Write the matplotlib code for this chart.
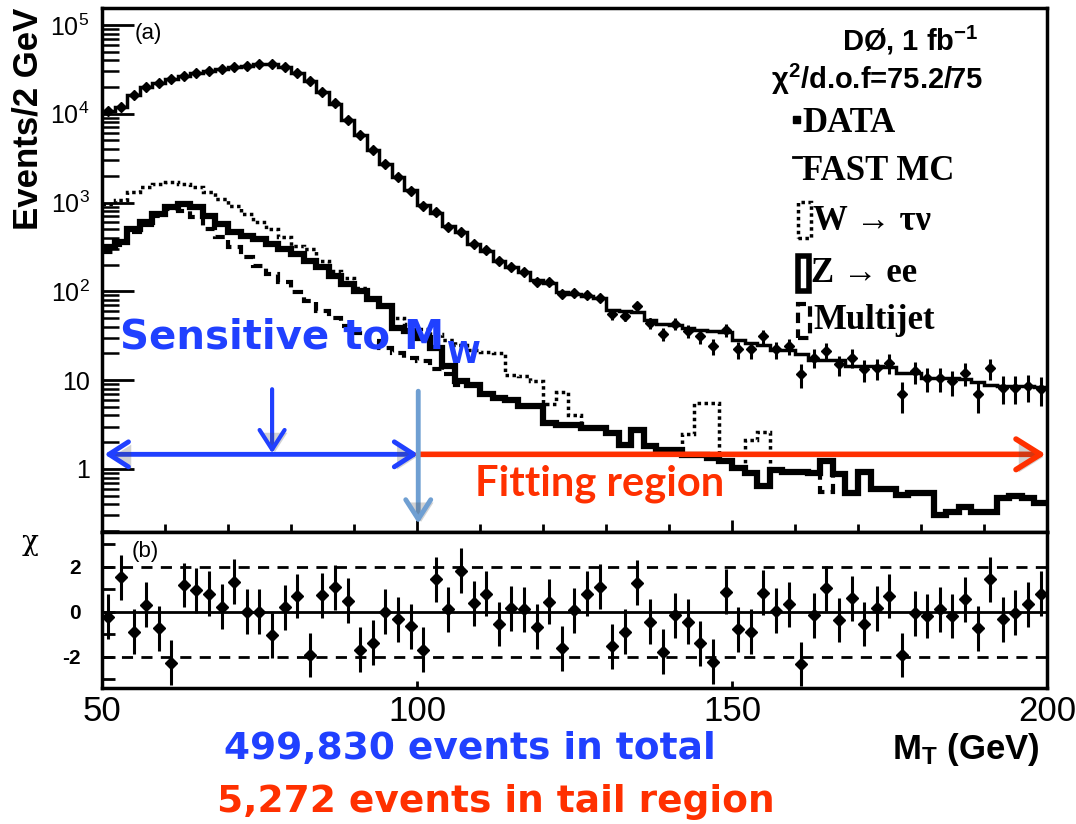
import numpy as np
import matplotlib.pyplot as plt
import matplotlib.patheffects as pe
from matplotlib.patches import Rectangle
from matplotlib.lines import Line2D
from matplotlib.ticker import MultipleLocator, LogLocator, NullFormatter

plt.rcParams['font.family'] = ['Liberation Sans', 'DejaVu Sans']
plt.rcParams['mathtext.fontset'] = 'custom'
plt.rcParams['mathtext.rm'] = 'Liberation Sans'
plt.rcParams['mathtext.it'] = 'Liberation Sans:italic'
plt.rcParams['mathtext.bf'] = 'Liberation Sans:bold'
plt.rcParams['mathtext.default'] = 'regular'

# transverse mass, 2 GeV bins from 50 to 200 GeV
edges = np.arange(50, 202, 2)
centers = edges[:-1] + 1

fast_mc = [10800, 11800, 16200, 20100, 22000, 24300, 26500, 28400, 30500, 31600,
           33300, 34700, 36200, 36200, 33800, 28900, 23300, 17600, 13000, 8600,
           5710, 3940, 2730, 1930, 1370, 940, 770, 540, 460, 340,
           285, 222, 186, 163, 134, 124, 98, 94, 89, 84,
           62, 60, 58, 47, 43, 42, 39, 37, 36, 35,
           28, 26, 25, 22, 22, 19.5, 17, 17, 17, 14.5,
           14.4, 14.4, 14.2, 12, 12, 10.6, 10.6, 10.5, 10.4, 9.5,
           8.9, 8.6, 8.5, 8.5, 8.4]

data = [10750, 11900, 16100, 20200, 21900, 24400, 26400, 28500, 30600, 31500,
        33500, 34500, 36300, 36000, 33900, 29000, 23100, 17700, 13100, 8550,
        5700, 3920, 2740, 1920, 1360, 920, 790, 535, 470, 342,
        290, 220, 188, 164, 128, 127, 93, 95, 91, 85,
        55, 53, 68.5, 44, 33, 43, 36, 31.4, 24.2, 37,
        22.2, 22.2, 31.4, 22.2, 24.2, 11.6, 17.9, 21.3, 15, 17.9,
        13.2, 13.8, 15.7, 6.9, 12.6, 10.6, 10.6, 9.7, 12.1, 6.9,
        13.8, 8.2, 8.2, 8.55, 7.9]

w_tauv = [950, 1070, 1300, 1490, 1620, 1690, 1620, 1490, 1300, 1100,
          925, 746, 600, 505, 406, 327, 300, 221, 171, 143,
          110, 85, 68, 50.6, 43, 38, 33, 28, 25, 22,
          21, 20, 11.5, 11, 9.7, 5.4, 7.3, 4.1, 2.9, 2.9,
          2.55, 1.88, 2.77, 1.8, 1.65, 1.65, 2.45, 5.5, 5.5, 1.22,
          1.02, 2.1, 2.6, 0.98, 0.93, 0.93, 0.9, 1.23, 0.87, 0.54,
          0.93, 0.6, 0.6, 0.51, 0.54, 0.54, 0.30, 0.33, 0.37, 0.33,
          0.33, 0.47, 0.49, 0.47, 0.41]

z_ee = [316, 357, 505, 600, 746, 886, 966, 886, 712, 574,
        462, 424, 389, 341, 300, 263, 221, 186, 150, 120,
        101, 82, 68.5, 39, 36, 30, 23, 14.4, 9.7, 8.9,
        6.9, 6.3, 6.0, 5.1, 5.1, 3.3, 3.16, 3.16, 2.9, 2.9,
        2.55, 1.88, 2.77, 1.8, 1.65, 1.65, 1.45, 1.45, 1.32, 1.22,
        1.02, 0.9, 0.65, 0.98, 0.93, 0.93, 0.9, 1.23, 0.87, 0.54,
        0.93, 0.6, 0.6, 0.51, 0.54, 0.54, 0.30, 0.33, 0.37, 0.33,
        0.33, 0.47, 0.49, 0.47, 0.41]

multijet = [280, 330, 470, 560, 700, 850, 810, 683, 505, 406,
            313, 241, 194, 156, 126, 97, 78, 60, 50.6, 40.7,
            34, 27.6, 23.2, 20.3, 17.9, 16.4, 13.2, 11.6, 8.9, 8.9,
            6.9, 6.3, 6.0, 5.1, 5.1, 3.3, 3.16, 3.16, 2.9, 2.9,
            2.55, 1.88, 2.77, 1.8, 1.65, 1.65, 1.45, 1.45, 1.32, 1.22,
            1.02, 0.9, 0.65, 0.98, 0.93, 0.93, 0.9, 0.55, 0.87, 0.54,
            0.93, 0.6, 0.6, 0.51, 0.54, 0.54, 0.30, 0.33, 0.37, 0.33,
            0.33, 0.47, 0.49, 0.47, 0.41]

chi = [-0.22, 1.53, -0.89, 0.30, -0.74, -2.27, 1.19, 0.96, 0.79, 0.22,
       1.33, 0.0, 0.0, -1.04, 0.19, 0.70, -1.93, 0.74, 1.08, 0.49,
       -1.70, -1.38, 0.0, -0.34, -0.64, -1.70, 1.44, 0.10, 1.82, 0.37,
       0.81, -0.55, 0.15, 0.10, -0.67, 0.44, -1.63, 0.07, 0.81, 1.11,
       -1.53, -0.89, 1.29, -0.44, -1.78, -0.15, -0.44, -1.41, -2.22, 0.89,
       -0.79, -0.89, 0.84, 0.04, 0.34, -2.33, -0.15, 1.04, -0.37, 0.59,
       -0.55, 0.15, 0.70, -1.93, -0.07, -0.19, 0.10, -0.19, 0.55, -0.74,
       1.44, -0.34, -0.04, 0.34, 0.79]

blue = '#2040ff'
red = '#ff3000'
light_blue = '#6f9fd2'

fig = plt.figure(figsize=(10.76, 8.24), dpi=100)
ax1 = fig.add_axes([0.0948, 0.3544, 0.8782, 0.6359])
ax2 = fig.add_axes([0.0948, 0.1650, 0.8782, 0.1894])

# (a) spectrum
ax1.stairs(multijet, edges, baseline=None, color='k', lw=3, ls=(0, (2.5, 1.5)))
ax1.stairs(w_tauv, edges, baseline=None, color='k', lw=2.5, ls=(0, (1, 1)))
ax1.stairs(z_ee, edges, baseline=None, color='k', lw=4.5)
ax1.stairs(fast_mc, edges, baseline=None, color='k', lw=2.5)
ax1.errorbar(centers, data, yerr=np.sqrt(data), fmt='D', ms=5.5, color='k',
             elinewidth=2.2, capsize=0)

ax1.set_yscale('log')
ax1.set_xlim(50, 200)
ax1.set_ylim(0.195, 1.55e5)
ax1.set_yticks([1, 10, 1e2, 1e3, 1e4, 1e5],
               labels=['1', '10', '$10^{2}$', '$10^{3}$', '$10^{4}$', '$10^{5}$'])
ax1.yaxis.set_minor_locator(LogLocator(base=10, subs=np.arange(2, 10), numticks=100))
ax1.yaxis.set_minor_formatter(NullFormatter())
ax1.set_xticks([50, 100, 150, 200])
ax1.xaxis.set_minor_locator(MultipleLocator(10))
ax1.tick_params(axis='y', which='major', direction='in', length=23, width=2,
                labelsize=18, pad=9)
ax1.tick_params(axis='y', which='minor', direction='in', length=12, width=1.8)
ax1.tick_params(axis='x', which='major', direction='in', length=9, width=2,
                labelbottom=False)
ax1.tick_params(axis='x', which='minor', direction='in', length=6, width=2)
ax1.text(0.035, 0.952, '(a)', transform=ax1.transAxes, fontsize=16,
         va='center', ha='left')

# (b) chi per bin
ax2.axhline(0, color='k', lw=2)
for lvl in (2, -2):
    ax2.axhline(lvl, color='k', lw=2, ls=(0, (4, 3)))
ax2.errorbar(centers, chi, yerr=1, fmt='D', ms=6.5, color='k', elinewidth=2.2, capsize=0)
ax2.set_xlim(50, 200)
ax2.set_ylim(-3.4, 3.55)
ax2.set_yticks([-3, -2, -1, 0, 1, 2, 3], labels=['', '-2', '', '0', '', '2', ''])
ax2.set_xticks([50, 100, 150, 200], labels=['50', '100', '150', '200'])
ax2.tick_params(axis='y', direction='in', length=9, width=2, labelsize=15, pad=15)
ax2.tick_params(axis='x', direction='in', length=5, width=2, labelsize=25, pad=5)
for lab in ax2.get_yticklabels():
    lab.set_fontweight('bold')
ax2.text(0.031, 0.878, '(b)', transform=ax2.transAxes, fontsize=16,
         va='center', ha='left')

for ax in (ax1, ax2):
    for sp in ax.spines.values():
        sp.set_linewidth(2.5)

fig.text(28 / 1076, 1 - 8 / 824, 'Events/2 GeV', rotation=90, ha='center', va='top',
         fontsize=25, fontweight='bold')
fig.text(30 / 1076, 1 - 545 / 824, r'$\chi$', ha='center', va='center', fontsize=20,
         family='DejaVu Serif')
fig.text(1040 / 1076, 1 - 750 / 824, r'$\mathbf{M_{T}}$ (GeV)', ha='right', va='center',
         fontsize=25, fontweight='bold')

# legend block
fig.text(979 / 1076, 1 - 40 / 824, r'DØ, 1 fb$^{\mathbf{-1}}$', ha='right', va='center',
         fontsize=21, fontweight='bold')
fig.text(983 / 1076, 1 - 79 / 824, r'$\chi^{\mathbf{2}}$/d.o.f=75.2/75', ha='right',
         va='center', fontsize=21, fontweight='bold')
serif = ['Liberation Serif', 'DejaVu Serif']
legend_rows = [('DATA', 802, 124), ('FAST MC', 802, 171), ('W → τν', 813, 221),
               ('Z → ee', 811, 273), ('Multijet', 813, 320)]
for label, lx, ly in legend_rows:
    fig.text(lx / 1076, 1 - ly / 824, label, ha='left', va='center', fontsize=25,
             fontweight='bold', family=serif)

def fig_rect(x0, y0, x1, y1, **kw):
    fig.add_artist(Rectangle((x0 / 1076, 1 - y1 / 824), (x1 - x0) / 1076, (y1 - y0) / 824,
                             transform=fig.transFigure, **kw))

fig_rect(793, 116, 800, 123, color='k')
fig.add_artist(Line2D([793 / 1076, 801 / 1076], [1 - 157 / 824, 1 - 157 / 824],
                      transform=fig.transFigure, color='k', lw=2))
fig_rect(798, 202, 811, 238, fill=False, ec='k', lw=2.5, ls=(0, (1, 1)))
fig_rect(798, 256, 809, 291, fill=False, ec='k', lw=4)
fig_rect(798, 304, 810, 338, fill=False, ec='k', lw=3, ls=(0, (2.5, 1.5)))

# annotations
shadow = [pe.SimplePatchShadow(offset=(2, -2), alpha=0.25), pe.Normal()]
y_arrow = 1.46
a1 = ax1.annotate('', xy=(50.4, y_arrow), xytext=(100.2, y_arrow),
                  arrowprops=dict(arrowstyle='<->,head_length=0.7,head_width=0.45',
                                  color=blue, lw=3.5, mutation_scale=20,
                                  shrinkA=0, shrinkB=0))
a2 = ax1.annotate('', xy=(199.8, y_arrow), xytext=(100.2, y_arrow),
                  arrowprops=dict(arrowstyle='->,head_length=0.8,head_width=0.5',
                                  color=red, lw=4, mutation_scale=22,
                                  shrinkA=0, shrinkB=0))
a3 = ax1.annotate('', xy=(77, 1.5), xytext=(77, 7.9),
                  arrowprops=dict(arrowstyle='->,head_length=0.7,head_width=0.45',
                                  color=blue, lw=3, mutation_scale=20,
                                  shrinkA=0, shrinkB=0))
a4 = ax1.annotate('', xy=(100.2, 0.242), xytext=(100.2, 7.5),
                  arrowprops=dict(arrowstyle='->,head_length=0.7,head_width=0.45',
                                  color=light_blue, lw=3.5, mutation_scale=20,
                                  shrinkA=0, shrinkB=0))
for a in (a1, a2, a3, a4):
    a.arrow_patch.set_path_effects(shadow)

sens = ax1.text(52.9, 30, 'Sensitive to M', color=blue, fontsize=29, fontweight='bold',
                family='DejaVu Sans', ha='left', va='center')
ax1.annotate('W', xy=(1, 0), xycoords=sens, xytext=(1, 13), textcoords='offset points',
             color=blue, fontsize=22, fontweight='bold', family='DejaVu Sans',
             ha='left', va='top')
ax1.text(129, 0.686, 'Fitting region', color=red, fontsize=30, fontweight='bold',
         family=['Lato', 'DejaVu Sans'], ha='center', va='center')

fig.text(470 / 1076, 1 - 749 / 824, '499,830 events in total', color=blue, fontsize=27,
         fontweight='bold', family='DejaVu Sans', ha='center', va='center')
fig.text(496 / 1076, 1 - 802 / 824, '5,272 events in tail region', color=red, fontsize=27,
         fontweight='bold', family='DejaVu Sans', ha='center', va='center')

fig.savefig('out.png', dpi=100)
